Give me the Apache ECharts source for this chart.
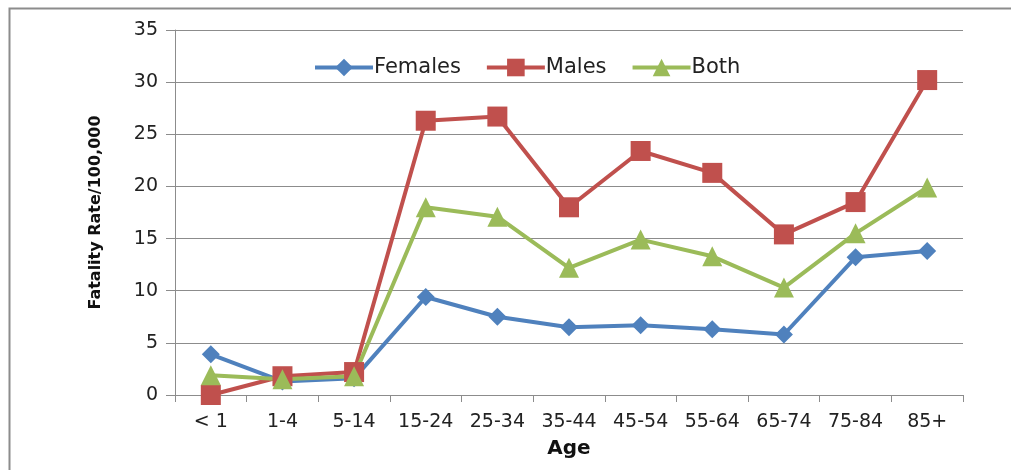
<!DOCTYPE html>
<html>
<head>
<meta charset="utf-8">
<script src="https://cdn.jsdelivr.net/npm/echarts@6/dist/echarts.min.js"></script>
<style>
html,body{margin:0;padding:0;background:#fff;}
#c{width:1011px;height:470px;}
</style>
</head>
<body>
<div id="c"></div>
<script>
var categories = ['< 1','1-4','5-14','15-24','25-34','35-44','45-54','55-64','65-74','75-84','85+'];
var females = [3.9, 1.3, 1.6, 9.4, 7.5, 6.5, 6.7, 6.3, 5.8, 13.2, 13.8];
var males   = [0.0, 1.8, 2.2, 26.3, 26.7, 18.0, 23.4, 21.3, 15.4, 18.5, 30.2];
var both    = [1.9, 1.5, 1.8, 18.0, 17.1, 12.2, 14.9, 13.3, 10.3, 15.5, 19.9];
var yTicks = {min: 0, max: 35, interval: 5};

var FONT = 'DejaVu Sans';
var chart = echarts.init(document.getElementById('c'), null, {renderer: 'canvas'});
chart.setOption({
  animation: false,
  backgroundColor: '#fff',
  graphic: [{
    type: 'rect', left: 7, top: 6, z: -1,
    shape: {x: 0, y: 0, width: 1100, height: 600},
    style: {fill: 'none', stroke: '#8c8c8c', lineWidth: 2}
  }],
  grid: {left: 175, right: 48, top: 30, bottom: 75},
  legend: {
    left: 308, top: 52,
    itemWidth: 58, itemHeight: 22, itemGap: 24,
    lineStyle: {width: 4},
    textStyle: {fontFamily: FONT, fontSize: 21, color: '#222', padding: [0,0,0,-4]},
    data: ['Females','Males','Both']
  },
  xAxis: {
    type: 'category', data: categories, boundaryGap: true,
    name: 'Age', nameLocation: 'middle', nameGap: 44,
    nameTextStyle: {fontFamily: FONT, fontSize: 20, fontWeight: 'bold', color: '#111'},
    axisLine: {lineStyle: {color: '#8c8c8c', width: 1}},
    axisTick: {show: true, length: 7, lineStyle: {color: '#8c8c8c'}},
    axisLabel: {fontFamily: FONT, fontSize: 19, color: '#222', margin: 18, interval: 0}
  },
  yAxis: {
    type: 'value', min: yTicks.min, max: yTicks.max, interval: yTicks.interval,
    name: 'Fatality Rate/100,000', nameLocation: 'middle', nameGap: 71,
    nameTextStyle: {fontFamily: FONT, fontSize: 16, fontWeight: 'bold', color: '#111'},
    axisLine: {show: true, lineStyle: {color: '#8c8c8c', width: 1}},
    axisTick: {show: true, length: 9, lineStyle: {color: '#8c8c8c'}},
    axisLabel: {fontFamily: FONT, fontSize: 19, color: '#222', margin: 17},
    splitLine: {lineStyle: {color: '#8c8c8c', width: 1}}
  },
  series: [
    {name: 'Females', type: 'line', data: females, symbol: 'diamond', symbolSize: 18,
     itemStyle: {color: '#4F81BD'}, lineStyle: {width: 4, color: '#4F81BD'}},
    {name: 'Males', type: 'line', data: males, symbol: 'rect', symbolSize: 20,
     itemStyle: {color: '#C0504D'}, lineStyle: {width: 4, color: '#C0504D'}},
    {name: 'Both', type: 'line', data: both, symbol: 'triangle', symbolSize: 20,
     itemStyle: {color: '#9BBB59'}, lineStyle: {width: 4, color: '#9BBB59'}}
  ]
});
</script>
</body>
</html>
